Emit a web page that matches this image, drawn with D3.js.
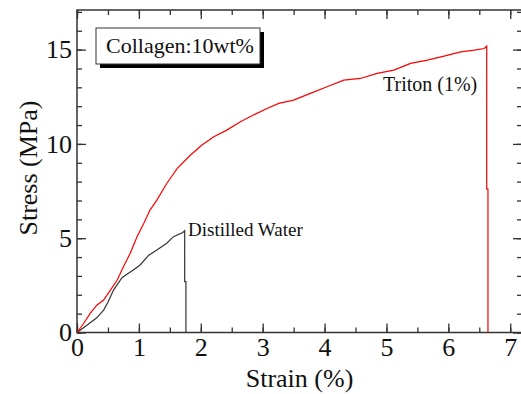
<!DOCTYPE html>
<html>
<head>
<meta charset="utf-8">
<script src="https://cdn.jsdelivr.net/npm/d3@7"></script>
<style>
    body { margin: 0; background: #fff; }
    text { font-family: "Liberation Serif", "Times New Roman", serif; }
</style>
</head>
<body>
<div id="chart"></div>
<script>
var svgWidth = 521;
var svgHeight = 394;

// Triton (1%) run, red
var tritonStrain = [0, 0.11, 0.21, 0.32, 0.43, 0.54, 0.65, 0.75, 0.86, 0.97, 1.08, 1.18, 1.29, 1.45, 1.62, 1.83,
    2.02, 2.21, 2.42, 2.64, 2.85, 3.07, 3.26, 3.50, 3.77, 4.04, 4.31, 4.58, 4.85, 5.12, 5.39, 5.66, 5.93,
    6.20, 6.42, 6.58, 6.62, 6.62, 6.64, 6.64];
var tritonStress = [0, 0.49, 1.0, 1.45, 1.72, 2.25, 2.78, 3.49, 4.2, 5.08, 5.79, 6.49, 7.02, 7.9, 8.7, 9.4,
    9.94, 10.38, 10.73, 11.17, 11.53, 11.88, 12.15, 12.32, 12.68, 13.03, 13.38, 13.47, 13.74, 13.91, 14.27, 14.44, 14.65,
    14.88, 14.97, 15.06, 15.18, 7.6, 7.6, 0];

// Distilled water run, black
var waterStrain = [0, 0.16, 0.32, 0.43, 0.5, 0.59, 0.73, 0.91, 1.02, 1.16, 1.29, 1.45, 1.56, 1.71, 1.74, 1.74, 1.76, 1.76];
var waterStress = [0, 0.38, 0.78, 1.19, 1.6, 2.25, 2.92, 3.31, 3.58, 4.1, 4.37, 4.73, 5.08, 5.3, 5.4, 2.7, 2.7, 0];

var xTicks = [0, 1, 2, 3, 4, 5, 6, 7];
var yTicks = [0, 5, 10, 15];

var margin =
{
    top: 10,
    left: 77
};
var plotRight = 522;
var plotBottom = 332.5;

var svg = d3
    .select("#chart")
    .append("svg")
    .attr("width", svgWidth)
    .attr("height", svgHeight);

var xLinearScale = d3.scaleLinear()
    .domain([0, 7.19])
    .range([margin.left, plotRight]);

var yLinearScale = d3.scaleLinear()
    .domain([0, 17.1])
    .range([plotBottom, margin.top]);

var fontStack = "'Liberation Serif', 'Times New Roman', serif";
var axisColor = "#333";

function styleAxis(g)
{
    g.select(".domain").remove();
    g.selectAll("line").attr("stroke", axisColor).attr("stroke-width", 1.3);
    g.selectAll("text")
        .attr("fill", "#111")
        .style("font-family", fontStack)
        .style("font-size", "26px");
}

// minor ticks
var xMinor = d3.range(0, 7.5, 0.5);
var yMinor = d3.range(0, 18, 1);

svg.append("g")
    .attr("transform", `translate(0, ${plotBottom})`)
    .call(d3.axisBottom(xLinearScale).tickValues(xMinor).tickSize(-5).tickFormat(""))
    .call(styleAxis);
svg.append("g")
    .attr("transform", `translate(0, ${margin.top})`)
    .call(d3.axisTop(xLinearScale).tickValues(xMinor).tickSize(-5).tickFormat(""))
    .call(styleAxis);
svg.append("g")
    .attr("transform", `translate(${margin.left}, 0)`)
    .call(d3.axisLeft(yLinearScale).tickValues(yMinor).tickSize(-5).tickFormat(""))
    .call(styleAxis);
svg.append("g")
    .attr("transform", `translate(${plotRight}, 0)`)
    .call(d3.axisRight(yLinearScale).tickValues(yMinor).tickSize(-5).tickFormat(""))
    .call(styleAxis);

// major ticks
svg.append("g")
    .attr("transform", `translate(0, ${plotBottom})`)
    .call(d3.axisBottom(xLinearScale).tickValues(xTicks).tickSize(-9).tickPadding(5).tickFormat(d3.format("d")))
    .call(styleAxis);
svg.append("g")
    .attr("transform", `translate(0, ${margin.top})`)
    .call(d3.axisTop(xLinearScale).tickValues(xTicks).tickSize(-9).tickFormat(""))
    .call(styleAxis);
svg.append("g")
    .attr("transform", `translate(${margin.left}, 0)`)
    .call(d3.axisLeft(yLinearScale).tickValues(yTicks).tickSize(-9).tickPadding(5).tickFormat(d3.format("d")))
    .call(styleAxis);
svg.append("g")
    .attr("transform", `translate(${plotRight}, 0)`)
    .call(d3.axisRight(yLinearScale).tickValues(yTicks).tickSize(-9).tickFormat(""))
    .call(styleAxis);

// frame
svg.append("rect")
    .attr("x", margin.left)
    .attr("y", margin.top)
    .attr("width", plotRight - margin.left)
    .attr("height", plotBottom - margin.top)
    .attr("fill", "none")
    .attr("stroke", axisColor)
    .attr("stroke-width", 1.5);

var line = d3.line()
    .x(d => xLinearScale(d[0]))
    .y(d => yLinearScale(d[1]));

svg.append("path")
    .datum(waterStrain.map((s, i) => [s, waterStress[i]]))
    .attr("d", line)
    .attr("fill", "none")
    .attr("stroke", "#333")
    .attr("stroke-width", 1.2);

svg.append("path")
    .datum(tritonStrain.map((s, i) => [s, tritonStress[i]]))
    .attr("d", line)
    .attr("fill", "none")
    .attr("stroke", "#ff0000")
    .attr("stroke-width", 1.2);

// curve labels
svg.append("text")
    .attr("x", 188)
    .attr("y", 236)
    .style("font-size", "19px")
    .attr("fill", "#111")
    .text("Distilled Water");

svg.append("text")
    .attr("x", 383)
    .attr("y", 91)
    .style("font-size", "20px")
    .attr("fill", "#111")
    .text("Triton (1%)");

// legend box with shadow
svg.append("rect")
    .attr("x", 100)
    .attr("y", 32)
    .attr("width", 164)
    .attr("height", 36)
    .attr("fill", "#000");
svg.append("rect")
    .attr("x", 96)
    .attr("y", 28)
    .attr("width", 164)
    .attr("height", 36)
    .attr("fill", "#fff")
    .attr("stroke", "#333")
    .attr("stroke-width", 1);
svg.append("text")
    .attr("x", 106)
    .attr("y", 53)
    .style("font-size", "22px")
    .attr("fill", "#111")
    .text("Collagen:10wt%");

// axis titles
svg.append("text")
    .attr("x", (margin.left + plotRight) / 2)
    .attr("y", 387)
    .attr("text-anchor", "middle")
    .style("font-size", "26px")
    .attr("fill", "#111")
    .text("Strain (%)");

svg.append("text")
    .attr("transform", "rotate(-90)")
    .attr("x", -168)
    .attr("y", 37)
    .attr("text-anchor", "middle")
    .style("font-size", "26px")
    .attr("fill", "#111")
    .text("Stress (MPa)");
</script>
</body>
</html>
